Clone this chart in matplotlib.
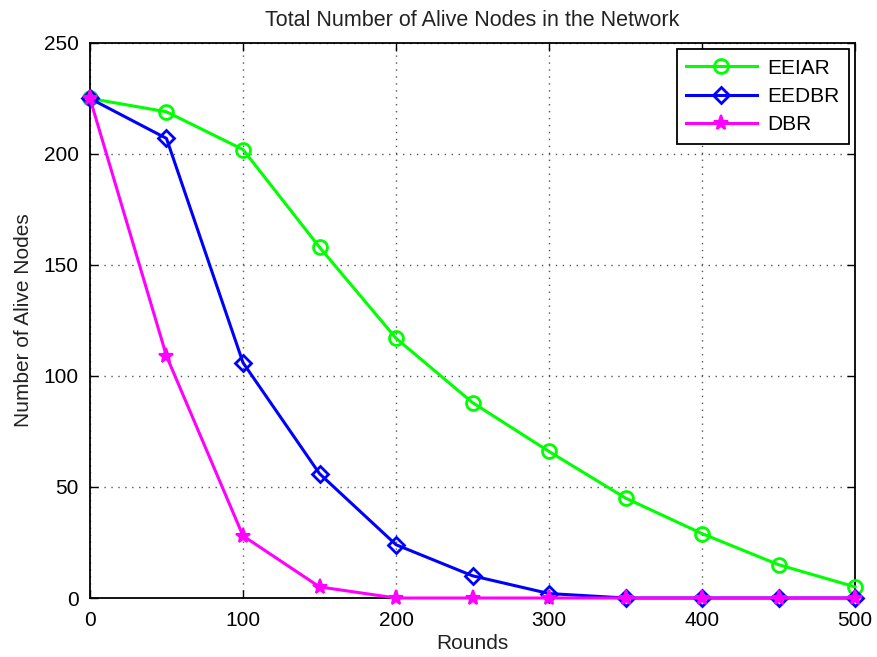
import matplotlib
matplotlib.use("Agg")
import matplotlib.pyplot as plt

rounds = [0, 50, 100, 150, 200, 250, 300, 350, 400, 450, 500]
eeiar = [225, 219, 202, 158, 117, 88, 66, 45, 29, 15, 5]
eedbr = [225, 207, 106, 56, 24, 10, 2, 0, 0, 0, 0]
dbr = [225, 109, 28, 5, 0, 0, 0, 0, 0, 0, 0]

plt.rcParams['font.family'] = ['Liberation Sans', 'DejaVu Sans']

fig = plt.figure(figsize=(8.77, 6.57), dpi=100)
ax = fig.add_axes([0.1026, 0.0898, 0.8724, 0.8448])

ax.plot(rounds, eeiar, color='#00ff00', marker='o', markersize=10, markerfacecolor='none',
        markeredgewidth=2, linewidth=2.2, label='EEIAR', clip_on=False, zorder=3)
ax.plot(rounds, eedbr, color='#0000ff', marker='D', markersize=8.5, markerfacecolor='none',
        markeredgewidth=2, linewidth=2.2, label='EEDBR', clip_on=False, zorder=4)
ax.plot(rounds, dbr, color='#ff00ff', marker='*', markersize=11,
        markeredgewidth=1.5, linewidth=2.2, label='DBR', clip_on=False, zorder=5)

ax.set_xlim(0, 500)
ax.set_ylim(0, 250)
ax.set_xticks(range(0, 501, 100))
ax.set_yticks(range(0, 251, 50))
ax.tick_params(direction='in', top=True, right=True, labelsize=15, length=6, width=1)
ax.tick_params(axis='x', pad=9)
ax.tick_params(axis='y', pad=8)
ax.grid(True, linestyle=(0, (1, 4)), color='#555555', linewidth=1)
for s in ax.spines.values():
    s.set_linewidth(1.3)

ax.set_title('Total Number of Alive Nodes in the Network', fontsize=15.5, pad=12, color='#222222')
ax.set_xlabel('Rounds', fontsize=15, labelpad=3, color='#222222')
ax.set_ylabel('Number of Alive Nodes', fontsize=15, labelpad=8, color='#222222')

leg = ax.legend(loc='upper right', fontsize=15, fancybox=False, framealpha=1,
                edgecolor='black', borderpad=0.45, handlelength=3.4, labelspacing=0.45,
                borderaxespad=0.3, handletextpad=0.5)
leg.get_frame().set_linewidth(1.3)

fig.savefig('out.png', dpi=100)
